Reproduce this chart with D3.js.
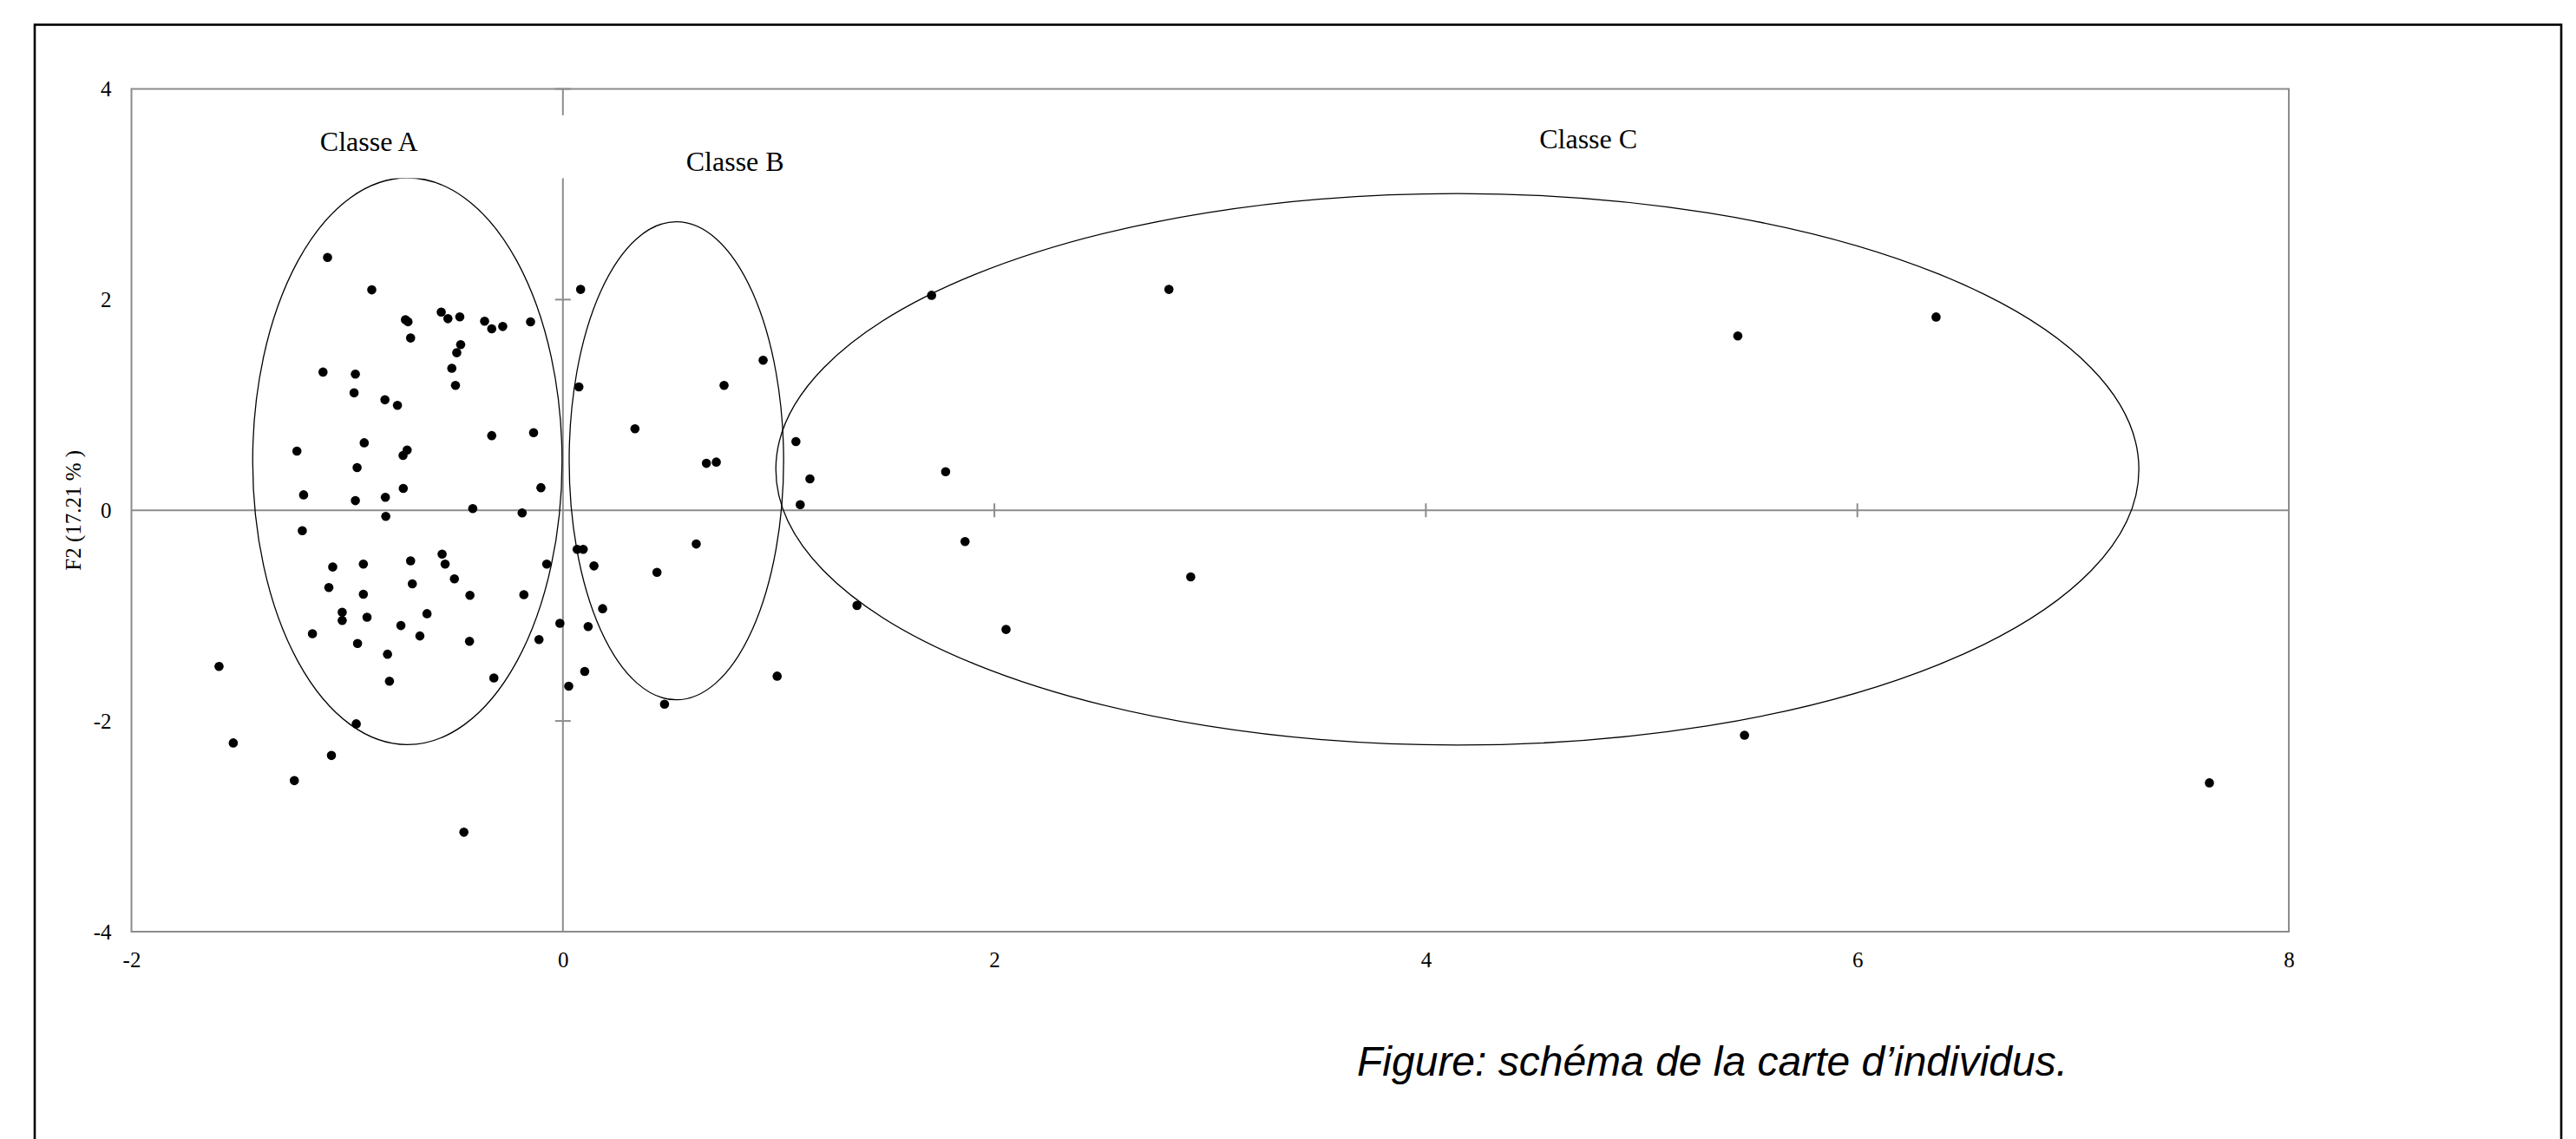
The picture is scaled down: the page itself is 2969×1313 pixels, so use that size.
<!DOCTYPE html>
<html>
<head>
<meta charset="utf-8">
<script src="https://cdn.jsdelivr.net/npm/d3@7"></script>
<style>
  html, body { margin: 0; padding: 0; background: #fff; }
  svg { display: block; }
  .tick-label { font-family: 'Liberation Serif', 'Times New Roman', serif; font-size: 25px; fill: #000; }
  .class-label { font-family: 'Liberation Serif', 'Times New Roman', serif; font-size: 32px; fill: #000; }
  .caption { font-family: 'Liberation Sans', Arial, sans-serif; font-style: italic; font-size: 48px; fill: #000; }
</style>
</head>
<body>
<div id="chart"></div>
<script>
// individuals on the factorial plane (F1, F2)
const f1 = [
  -1.091, -0.886, -0.564, -0.533, -0.478, -0.730, -0.718, -0.363, -0.330, -0.279,
  -0.150, -0.706, -0.474, -0.492, -0.515, -0.498, -1.112, -0.962, -0.968, -0.825,
  -0.767, 0.082, 0.074, 0.334, -0.330, -0.136, -1.233, -0.921, -0.722, -0.741,
  -0.954, -1.202, -0.740, -0.962, -0.823, -0.821, -0.418, -0.189, -0.102, -1.208,
  -0.560, -0.546, -0.706, -0.925, -1.067, -0.698, -0.503, -1.085, -0.925, -0.431,
  -0.181, -0.075, -1.023, -1.023, -0.908, -0.630, -0.751, -0.663, -1.161, -0.952,
  -0.813, -0.433, -0.111, -0.014, -0.804, -0.320, -1.594, -0.958, -1.528, -1.073,
  -1.245, -0.459, 0.066, 0.094, 0.144, 0.184, 0.117, 0.101, 0.027, 0.436,
  0.471, 0.618, 0.993, 1.363, 1.864, 2.054, 1.080, 1.145, 1.100, 1.774,
  0.665, 0.711, 0.928, 0.747, 1.709, 2.809, 2.910, 5.446, 6.365, 5.477,
  7.632
];
const f2 = [
  2.400, 2.093, 1.882, 1.819, 1.836, 1.810, 1.790, 1.795, 1.723, 1.745,
  1.789, 1.636, 1.573, 1.496, 1.348, 1.186, 1.312, 1.293, 1.115, 1.049,
  0.997, 2.097, 1.172, 0.774, 0.709, 0.737, 0.562, 0.641, 0.572, 0.521,
  0.405, 0.147, 0.208, 0.092, 0.123, -0.058, 0.017, -0.025, 0.215, -0.194,
  -0.416, -0.511, -0.480, -0.511, -0.538, -0.698, -0.651, -0.733, -0.797, -0.807,
  -0.801, -0.511, -0.968, -1.046, -1.015, -0.981, -1.094, -1.193, -1.172, -1.264,
  -1.366, -1.244, -1.227, -1.073, -1.622, -1.591, -1.482, -2.027, -2.208, -2.327,
  -2.566, -3.056, -0.371, -0.371, -0.528, -0.934, -1.104, -1.530, -1.670, -0.589,
  -1.841, -0.320, -1.574, -0.903, -0.296, -1.131, 0.652, 0.298, 0.054, 0.366,
  0.446, 0.458, 1.425, 1.186, 2.041, 2.097, -0.632, 1.655, 1.835, -2.135,
  -2.587
];

// classes drawn as ellipses around groups of individuals
const classNames = ['Classe A', 'Classe B', 'Classe C'];
const classCx = [-0.721, 0.526, 4.146];
const classCy = [0.466, 0.470, 0.389];
const classRx = [0.717, 0.497, 3.159];
const classRy = [2.690, 2.269, 2.618];
const labelX = [-0.899, 0.798, 4.753];
const labelY = [3.50, 3.31, 3.53];

const xTicks = [-2, 0, 2, 4, 6, 8];
const yTicks = [-4, -2, 0, 2, 4];
const yTitle = 'F2 (17.21 % )';
const caption = 'Figure: schéma de la carte d’individus.';

const config = {
  width: 2969,
  height: 1313,
  plot: {left: 151.5, right: 2638, top: 102.5, bottom: 1074},
  axisColor: '#8c8c8c',
  dotRadius: 5.3
};

const svg = d3.select('#chart').append('svg')
    .attr('width', config.width)
    .attr('height', config.height);

// outer frame of the figure (bottom edge falls outside the page)
svg.append('rect')
    .attr('x', 40).attr('y', 28.5)
    .attr('width', 2912).attr('height', 1400)
    .attr('fill', 'none')
    .attr('stroke', '#000')
    .attr('stroke-width', 2.6);

const x = d3.scaleLinear().domain([-2, 8]).range([config.plot.left, config.plot.right]);
const y = d3.scaleLinear().domain([-4, 4]).range([config.plot.bottom, config.plot.top]);

// plot area border
svg.append('rect')
    .attr('x', x(-2)).attr('y', y(4))
    .attr('width', x(8) - x(-2)).attr('height', y(-4) - y(4))
    .attr('fill', 'none')
    .attr('stroke', config.axisColor)
    .attr('stroke-width', 2);

// axes through the origin
const zero = svg.append('g')
    .attr('stroke', config.axisColor)
    .attr('stroke-width', 2);

zero.append('line')
    .attr('x1', x(-2)).attr('x2', x(8))
    .attr('y1', y(0)).attr('y2', y(0));
zero.append('line')
    .attr('x1', x(0)).attr('x2', x(0))
    .attr('y1', y(-4)).attr('y2', y(4));

zero.selectAll('.xt')
    .data(xTicks.filter(d => d !== 0 && d !== -2 && d !== 8))
  .join('line')
    .attr('x1', d => x(d)).attr('x2', d => x(d))
    .attr('y1', y(0) - 8).attr('y2', y(0) + 8);
zero.selectAll('.yt')
    .data(yTicks.filter(d => d !== 0))
  .join('line')
    .attr('x1', x(0) - 9).attr('x2', x(0) + 9)
    .attr('y1', d => y(d)).attr('y2', d => y(d));

// class ellipses
const classes = classNames.map((name, i) => ({
  name, cx: classCx[i], cy: classCy[i], rx: classRx[i], ry: classRy[i], lx: labelX[i], ly: labelY[i]
}));

svg.append('g').selectAll('ellipse')
    .data(classes)
  .join('ellipse')
    .attr('cx', d => x(d.cx))
    .attr('cy', d => y(d.cy))
    .attr('rx', d => x(d.cx + d.rx) - x(d.cx))
    .attr('ry', d => y(d.cy) - y(d.cy + d.ry))
    .attr('fill', 'none')
    .attr('stroke', '#000')
    .attr('stroke-width', 1.3);

// white text box behind the first label (hides a bit of the axis and ellipse top)
svg.append('rect')
    .attr('x', x(-1.3)).attr('y', y(3.75))
    .attr('width', x(0.05) - x(-1.3))
    .attr('height', y(3.152) - y(3.75))
    .attr('fill', '#fff');

svg.append('g').selectAll('text')
    .data(classes)
  .join('text')
    .attr('class', 'class-label')
    .attr('x', d => x(d.lx))
    .attr('y', d => y(d.ly))
    .attr('dy', '0.35em')
    .attr('text-anchor', 'middle')
    .text(d => d.name);

// individuals
svg.append('g').selectAll('circle')
    .data(f1.map((v, i) => [v, f2[i]]))
  .join('circle')
    .attr('cx', d => x(d[0]))
    .attr('cy', d => y(d[1]))
    .attr('r', config.dotRadius)
    .attr('fill', '#000');

// tick labels
const xAxis = svg.append('g')
    .attr('transform', `translate(0,${y(-4)})`)
    .call(d3.axisBottom(x).tickValues(xTicks).tickSize(0).tickPadding(23).tickFormat(d => String(d)));
const yAxis = svg.append('g')
    .attr('transform', `translate(${x(-2)},0)`)
    .call(d3.axisLeft(y).tickValues(yTicks).tickSize(0).tickPadding(23).tickFormat(d => String(d)));

[xAxis, yAxis].forEach(g => {
  g.select('.domain').remove();
  g.attr('font-family', null).attr('font-size', null);
  g.selectAll('text').attr('class', 'tick-label').attr('fill', null);
});

svg.append('text')
    .attr('class', 'tick-label')
    .attr('font-size', 25)
    .attr('transform', `translate(84,${y(0)}) rotate(-90)`)
    .attr('text-anchor', 'middle')
    .attr('dy', '0.35em')
    .text(yTitle);

svg.append('text')
    .attr('class', 'caption')
    .attr('x', 1564)
    .attr('y', 1240)
    .text(caption);
</script>
</body>
</html>
